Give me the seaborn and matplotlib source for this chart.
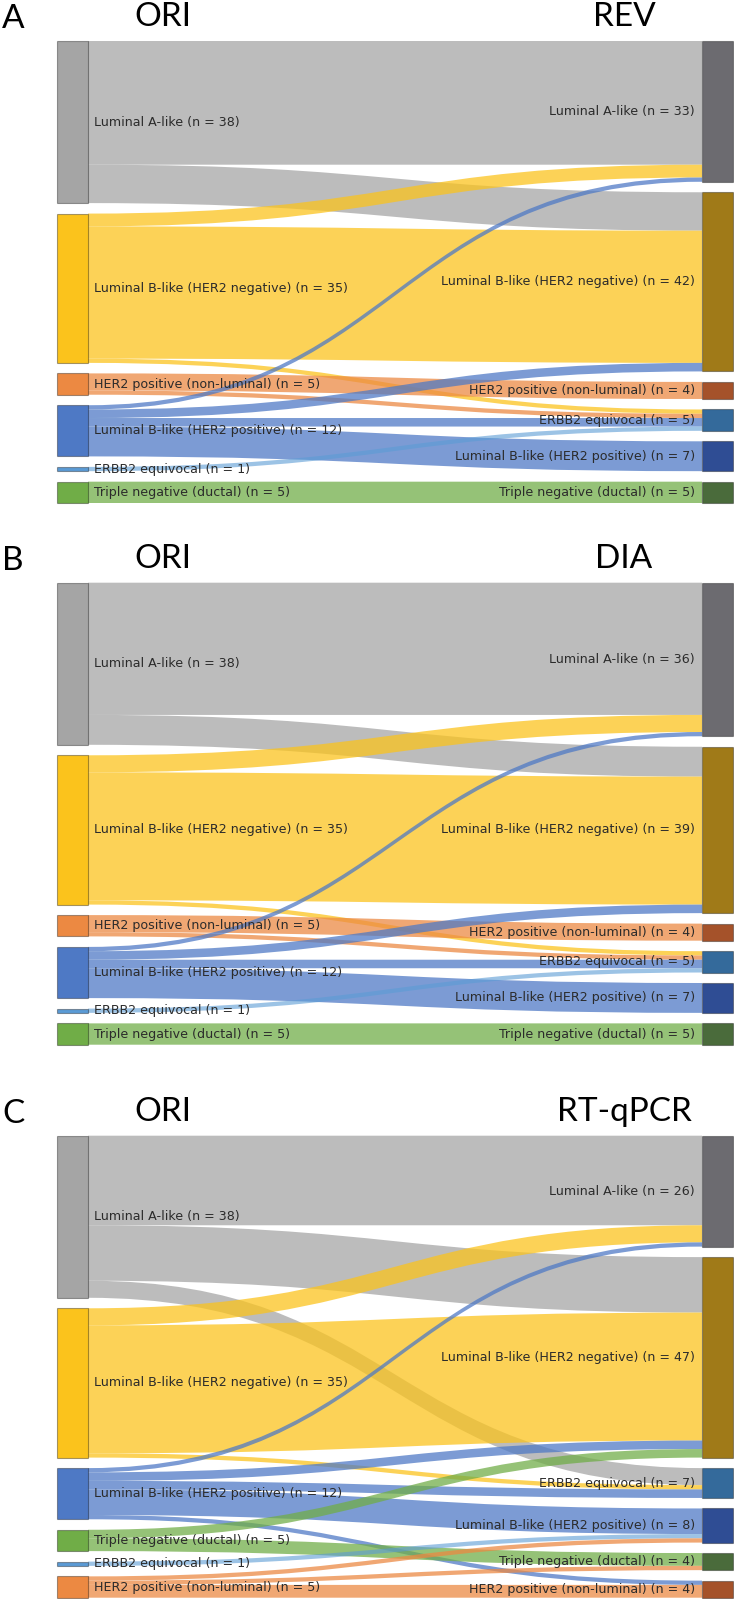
import matplotlib
matplotlib.use("Agg")
import matplotlib.pyplot as plt
from matplotlib.path import Path
from matplotlib.patches import PathPatch, Rectangle
import seaborn as sns

sns.set_theme(style="white")

# Data
panel_letters = ["A", "B", "C"]
left_titles = ["ORI", "ORI", "ORI"]
right_titles = ["REV", "DIA", "RT-qPCR"]

left_nodes_ab = ["Luminal A-like", "Luminal B-like (HER2 negative)", "HER2 positive (non-luminal)",
                 "Luminal B-like (HER2 positive)", "ERBB2 equivocal", "Triple negative (ductal)"]
right_nodes_ab = ["Luminal A-like", "Luminal B-like (HER2 negative)", "HER2 positive (non-luminal)",
                  "ERBB2 equivocal", "Luminal B-like (HER2 positive)", "Triple negative (ductal)"]
left_nodes_c = ["Luminal A-like", "Luminal B-like (HER2 negative)", "Luminal B-like (HER2 positive)",
                "Triple negative (ductal)", "ERBB2 equivocal", "HER2 positive (non-luminal)"]
right_nodes_c = ["Luminal A-like", "Luminal B-like (HER2 negative)", "ERBB2 equivocal",
                 "Luminal B-like (HER2 positive)", "Triple negative (ductal)", "HER2 positive (non-luminal)"]

# flows: (source class, target class, count)
flows_rev = [
    ("Luminal A-like", "Luminal A-like", 29),
    ("Luminal A-like", "Luminal B-like (HER2 negative)", 9),
    ("Luminal B-like (HER2 negative)", "Luminal A-like", 3),
    ("Luminal B-like (HER2 negative)", "Luminal B-like (HER2 negative)", 31),
    ("Luminal B-like (HER2 negative)", "ERBB2 equivocal", 1),
    ("HER2 positive (non-luminal)", "HER2 positive (non-luminal)", 4),
    ("HER2 positive (non-luminal)", "ERBB2 equivocal", 1),
    ("Luminal B-like (HER2 positive)", "Luminal A-like", 1),
    ("Luminal B-like (HER2 positive)", "Luminal B-like (HER2 negative)", 2),
    ("Luminal B-like (HER2 positive)", "ERBB2 equivocal", 2),
    ("Luminal B-like (HER2 positive)", "Luminal B-like (HER2 positive)", 7),
    ("ERBB2 equivocal", "ERBB2 equivocal", 1),
    ("Triple negative (ductal)", "Triple negative (ductal)", 5),
]
flows_dia = [
    ("Luminal A-like", "Luminal A-like", 31),
    ("Luminal A-like", "Luminal B-like (HER2 negative)", 7),
    ("Luminal B-like (HER2 negative)", "Luminal A-like", 4),
    ("Luminal B-like (HER2 negative)", "Luminal B-like (HER2 negative)", 30),
    ("Luminal B-like (HER2 negative)", "ERBB2 equivocal", 1),
    ("HER2 positive (non-luminal)", "HER2 positive (non-luminal)", 4),
    ("HER2 positive (non-luminal)", "ERBB2 equivocal", 1),
    ("Luminal B-like (HER2 positive)", "Luminal A-like", 1),
    ("Luminal B-like (HER2 positive)", "Luminal B-like (HER2 negative)", 2),
    ("Luminal B-like (HER2 positive)", "ERBB2 equivocal", 2),
    ("Luminal B-like (HER2 positive)", "Luminal B-like (HER2 positive)", 7),
    ("ERBB2 equivocal", "ERBB2 equivocal", 1),
    ("Triple negative (ductal)", "Triple negative (ductal)", 5),
]
flows_pcr = [
    ("Luminal A-like", "Luminal A-like", 21),
    ("Luminal A-like", "Luminal B-like (HER2 negative)", 13),
    ("Luminal A-like", "ERBB2 equivocal", 4),
    ("Luminal B-like (HER2 negative)", "Luminal A-like", 4),
    ("Luminal B-like (HER2 negative)", "Luminal B-like (HER2 negative)", 30),
    ("Luminal B-like (HER2 negative)", "ERBB2 equivocal", 1),
    ("Luminal B-like (HER2 positive)", "Luminal A-like", 1),
    ("Luminal B-like (HER2 positive)", "Luminal B-like (HER2 negative)", 2),
    ("Luminal B-like (HER2 positive)", "ERBB2 equivocal", 2),
    ("Luminal B-like (HER2 positive)", "Luminal B-like (HER2 positive)", 6),
    ("Luminal B-like (HER2 positive)", "HER2 positive (non-luminal)", 1),
    ("Triple negative (ductal)", "Luminal B-like (HER2 negative)", 2),
    ("Triple negative (ductal)", "Triple negative (ductal)", 3),
    ("ERBB2 equivocal", "Luminal B-like (HER2 positive)", 1),
    ("HER2 positive (non-luminal)", "Luminal B-like (HER2 positive)", 1),
    ("HER2 positive (non-luminal)", "Triple negative (ductal)", 1),
    ("HER2 positive (non-luminal)", "HER2 positive (non-luminal)", 3),
]

left_colors = {
    "Luminal A-like": "#a5a5a5",
    "Luminal B-like (HER2 negative)": "#fbc31c",
    "HER2 positive (non-luminal)": "#ec8942",
    "Luminal B-like (HER2 positive)": "#4e79c5",
    "ERBB2 equivocal": "#5b9bd5",
    "Triple negative (ductal)": "#70ad47",
}
right_colors = {
    "Luminal A-like": "#6c6b70",
    "Luminal B-like (HER2 negative)": "#a07a18",
    "HER2 positive (non-luminal)": "#a5522a",
    "ERBB2 equivocal": "#346a9b",
    "Luminal B-like (HER2 positive)": "#2f4d94",
    "Triple negative (ductal)": "#4a6b3b",
}

panels = [
    (left_nodes_ab, right_nodes_ab, flows_rev),
    (left_nodes_ab, right_nodes_ab, flows_dia),
    (left_nodes_c, right_nodes_c, flows_pcr),
]

# Layout (pixels)
W, H = 734, 1599
panel_tops = [41, 582.7, 1135.7]
span = 462
gap = 10.5
xl0, xl1 = 57, 88
xr0, xr1 = 702, 733

fig = plt.figure(figsize=(W / 100, H / 100), dpi=100)
ax = fig.add_axes([0, 0, 1, 1])
ax.set_xlim(0, W)
ax.set_ylim(H, 0)
ax.axis("off")

label_font = dict(family="DejaVu Sans", fontsize=9.1, color="#2b2b2b")
title_font = dict(family="Lato", fontsize=24, color="black")


def node_positions(nodes, totals, top, k):
    pos = {}
    y = top
    for n in nodes:
        h = totals[n] * k
        pos[n] = (y, y + h)
        y += h + gap
    return pos


def link(ax, x0, y0a, y0b, x1, y1a, y1b, color, alpha):
    xm = (x0 + x1) / 2
    verts = [(x0, y0a), (xm, y0a), (xm, y1a), (x1, y1a),
             (x1, y1b), (xm, y1b), (xm, y0b), (x0, y0b), (x0, y0a)]
    codes = [Path.MOVETO, Path.CURVE4, Path.CURVE4, Path.CURVE4,
             Path.LINETO, Path.CURVE4, Path.CURVE4, Path.CURVE4, Path.CLOSEPOLY]
    ax.add_patch(PathPatch(Path(verts, codes), facecolor=color, edgecolor="none",
                           alpha=alpha, zorder=1))


for p, (lnodes, rnodes, flows) in enumerate(panels):
    top = panel_tops[p]
    total = sum(f[2] for f in flows)
    k = (span - gap * (len(lnodes) - 1)) / total

    ltot = {n: sum(f[2] for f in flows if f[0] == n) for n in lnodes}
    rtot = {n: sum(f[2] for f in flows if f[1] == n) for n in rnodes}
    lpos = node_positions(lnodes, ltot, top, k)
    rpos = node_positions(rnodes, rtot, top, k)

    # stack links: outgoing ordered by target, incoming ordered by source
    out_off = {n: lpos[n][0] for n in lnodes}
    in_off = {n: rpos[n][0] for n in rnodes}
    ordered_out = sorted(flows, key=lambda f: (lnodes.index(f[0]), rnodes.index(f[1])))
    src_y = {}
    for f in ordered_out:
        src_y[f] = (out_off[f[0]], out_off[f[0]] + f[2] * k)
        out_off[f[0]] += f[2] * k
    ordered_in = sorted(flows, key=lambda f: (rnodes.index(f[1]), lnodes.index(f[0])))
    tgt_y = {}
    for f in ordered_in:
        tgt_y[f] = (in_off[f[1]], in_off[f[1]] + f[2] * k)
        in_off[f[1]] += f[2] * k

    for f in flows:
        a = 0.6 if f[0] == "ERBB2 equivocal" else 0.74
        link(ax, xl1, *src_y[f], xr0, *tgt_y[f], left_colors[f[0]], a)

    for n in lnodes:
        y0, y1 = lpos[n]
        ax.add_patch(Rectangle((xl0, y0), xl1 - xl0, y1 - y0, facecolor=left_colors[n],
                               edgecolor=(0, 0, 0, 0.35), lw=0.8, zorder=2))
        ax.text(xl1 + 6, (y0 + y1) / 2, f"{n} (n = {ltot[n]})", ha="left", va="center",
                zorder=3, **label_font)
    for n in rnodes:
        y0, y1 = rpos[n]
        ax.add_patch(Rectangle((xr0, y0), xr1 - xr0, y1 - y0, facecolor=right_colors[n],
                               edgecolor=(0, 0, 0, 0.35), lw=0.8, zorder=2))
        ax.text(xr0 - 7, (y0 + y1) / 2, f"{n} (n = {rtot[n]})", ha="right", va="center",
                zorder=3, **label_font)

    # titles
    ax.text(163, top - 15, left_titles[p], ha="center", va="baseline", **title_font)
    ax.text(624, top - 15, right_titles[p], ha="center", va="baseline", **title_font)
    ax.text(2, top - 13, panel_letters[p], ha="left", va="baseline", **title_font)

fig.savefig("out.png", dpi=100)
